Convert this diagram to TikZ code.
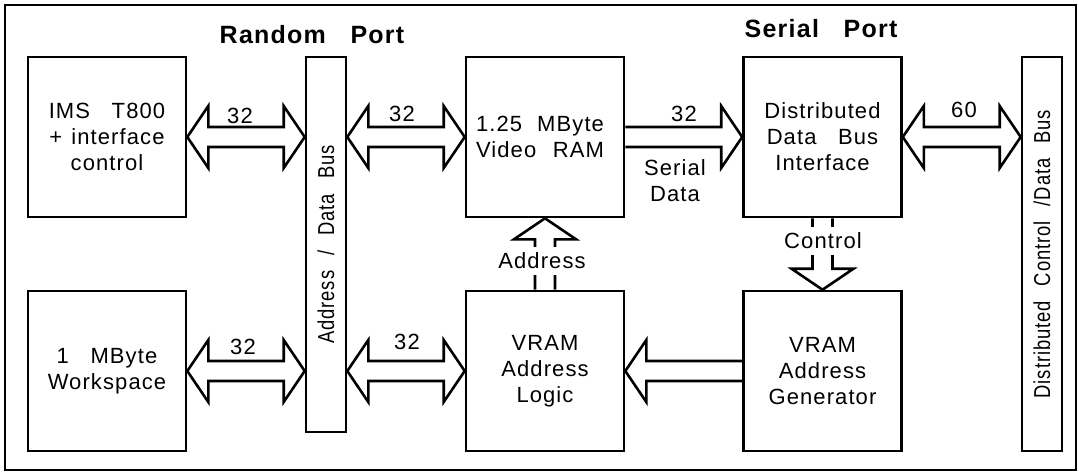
\documentclass[tikz,border=0pt]{standalone}
\usepackage{fontspec}
\setmainfont{Liberation Sans}[LetterSpace=5, WordSpace=3]
\newfontfamily\narrowfont{Liberation Sans}[FakeStretch=0.8, LetterSpace=4, WordSpace=2.5]
\usetikzlibrary{calc}

% hollow bus arrows between two points (head sizes set in the picture)
\newcommand{\twoway}[2]{%
  \coordinate (ha) at ($(#1)!\arrhl!(#2)$);
  \coordinate (hb) at ($(#2)!\arrhl!(#1)$);
  \draw[pipe] (#1) -- ($(ha)!\arrhw!90:(#2)$) -- ($(ha)!\arrsw!90:(#2)$)
    -- ($(hb)!\arrsw!-90:(#1)$) -- ($(hb)!\arrhw!-90:(#1)$) -- (#2)
    -- ($(hb)!\arrhw!90:(#1)$) -- ($(hb)!\arrsw!90:(#1)$)
    -- ($(ha)!\arrsw!-90:(#2)$) -- ($(ha)!\arrhw!-90:(#2)$) -- cycle;}
\newcommand{\oneway}[2]{%
  \coordinate (hb) at ($(#2)!\arrhl!(#1)$);
  \draw[pipe] ($(#1)!\arrsw!90:(#2)$) -- ($(hb)!\arrsw!-90:(#1)$)
    -- ($(hb)!\arrhw!-90:(#1)$) -- (#2) -- ($(hb)!\arrhw!90:(#1)$)
    -- ($(hb)!\arrsw!90:(#1)$) -- ($(#1)!\arrsw!-90:(#2)$);}

\begin{document}
\begin{tikzpicture}[x=1pt, y=-1pt,
  box/.style={draw, line width=2.6pt, minimum width=158pt, minimum height=160pt,
    inner sep=0pt, align=center, font=\fontsize{22}{26}\selectfont},
  bar/.style={draw, line width=2.6pt, minimum width=40pt, inner sep=0pt},
  pipe/.style={draw, line width=2.6pt},
  lab/.style={font=\fontsize{22}{26}\selectfont, inner sep=1pt, align=center},
  bartext/.style={font=\narrowfont\fontsize{23}{26}\selectfont, rotate=90},
  port/.style={font=\fontsize{25}{28}\selectfont\bfseries}]
  \def\arrhl{21pt}
  \def\arrhw{31pt}
  \def\arrsw{10pt}
  \useasboundingbox (0,0) rectangle (1079,472);
  \draw[line width=2pt] (5,5) rectangle (1076,470);
  % titles
  \node[port] (rport) at (312,35) {Random Port};
  \node[port] (sport) at (821,29) {Serial Port};
  % units
  \node[box] (ims) at (107,137) {IMS T800\\+\hspace{9pt}interface\\control};
  \node[box] (work) at (107,371) {1 MByte\\Workspace};
  \node[box] (vram) at (545,137) {\makebox[128pt][s]{1.25\hfill MByte}\hspace*{10pt}\\\makebox[128pt][s]{Video\hfill RAM}\hspace*{10pt}};
  \node[box] (logic) at (545,371) {VRAM\\Address\\Logic};
  \node[box] (ddbi) at (822.5,137) {Distributed\\Data Bus\\Interface};
  \node[box] (gen) at (822.5,371) {VRAM\\Address\\Generator};
  % buses
  \node[bar, minimum height=375pt] (lbus) at (326,244.5) {};
  \node[bartext] (lbustext) at (lbus.center) {Address / Data Bus};
  \node[bar, minimum height=394pt] (rbus) at (1042,254) {};
  \node[bartext] (rbustext) at (rbus.center) {Distributed Control /Data Bus};
  % arrows
  \coordinate (lb1) at (lbus.west |- ims.east);
  \coordinate (lb2) at (lbus.east |- vram.west);
  \coordinate (lb3) at (lbus.west |- work.east);
  \coordinate (lb4) at (lbus.east |- logic.west);
  \coordinate (rb1) at (rbus.west |- ddbi.east);
  \twoway{ims.east}{lb1}
  \twoway{lb2}{vram.west}
  \twoway{work.east}{lb3}
  \twoway{lb4}{logic.west}
  \twoway{ddbi.east}{rb1}
  \oneway{vram.east}{ddbi.west}
  \oneway{gen.west}{logic.east}
  \oneway{logic.north}{vram.south}
  \oneway{ddbi.south}{gen.north}
  % labels
  \node[lab] (w1) at (240,116) {32};
  \node[lab] (w2) at (402,114) {32};
  \node[lab] (w3) at (684,114) {32};
  \node[lab] (w4) at (964,110) {60};
  \node[lab] (w5) at (243,347) {32};
  \node[lab] (w6) at (407,342) {32};
  \node[lab] (serial) at (675,181) {Serial\\Data};
  \node[lab, fill=white, inner xsep=3pt, inner ysep=6pt] (addr) at (542,261) {Address};
  \node[lab, fill=white, inner xsep=3pt, inner ysep=6pt] (ctrl) at (823,241) {Control};
\end{tikzpicture}
\end{document}
